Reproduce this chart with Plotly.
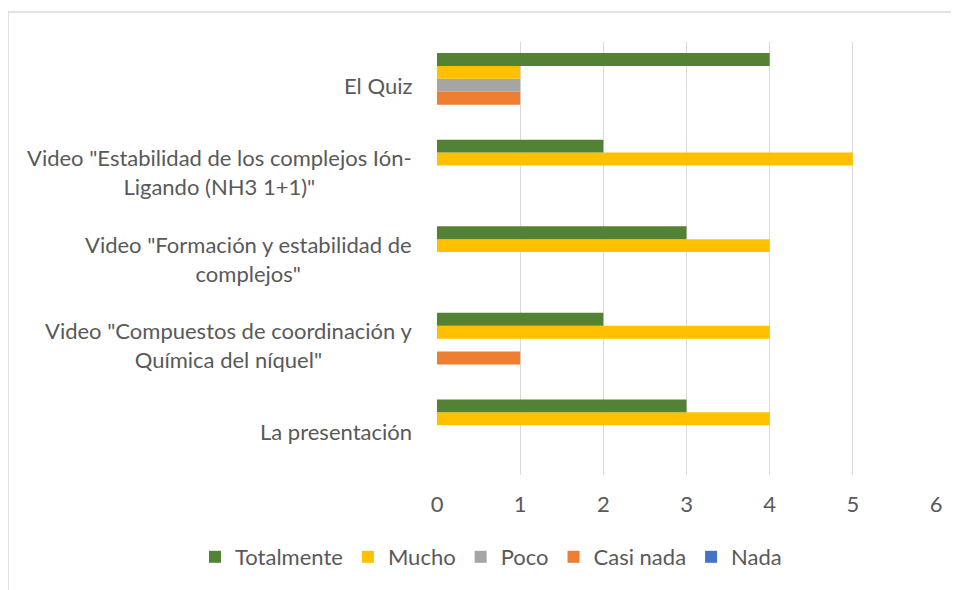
import plotly.graph_objects as go

# Categories listed bottom-to-top
categories = [
    "La presentación",
    "Video \"Compuestos de coordinación y<br>Química del níquel\"",
    "Video \"Formación y estabilidad de<br>complejos\"",
    "Video \"Estabilidad de los complejos Ión-<br>Ligando (NH3 1+1)\"",
    "El Quiz",
]
series_names = ["Totalmente", "Mucho", "Poco", "Casi nada", "Nada"]
totalmente = [3, 2, 3, 2, 4]
mucho = [4, 4, 4, 5, 1]
poco = [0, 0, 0, 0, 1]
casi_nada = [0, 1, 0, 0, 1]
nada = [0, 0, 0, 0, 0]
x_ticks = [0, 1, 2, 3, 4, 5, 6]

series_values = [totalmente, mucho, poco, casi_nada, nada]
colors = ["#548235", "#FFC000", "#A5A5A5", "#ED7D31", "#4472C4"]

FONT = "Lato"
TXT = "#595959"
FS = 22

fig = go.Figure()
# add in reverse so that "Totalmente" sits at the top of each group
for name, vals, col in reversed(list(zip(series_names, series_values, colors))):
    fig.add_trace(go.Bar(
        y=categories, x=vals, name=name, orientation="h",
        marker=dict(color=col, line=dict(width=0)),
    ))

# page body has an 8px margin; figure coordinates = screen - 8
OFF = 8
W, H = 959 - OFF, 590 - OFF
L = 437 - OFF
T = 42 - OFF
R = W - (936 - OFF)
B = H - (475 - OFF)
pw, ph = W - L - R, H - T - B

for c in categories:
    fig.add_annotation(
        x=0, xref="x domain", y=c, yref="y", text=c, showarrow=False,
        xanchor="right", yanchor="middle", align="center", xshift=-23,
        font=dict(family=FONT, size=FS, color=TXT),
    )

# chart area border
fig.add_shape(
    type="rect", xref="paper", yref="paper",
    x0=(8 - OFF - L) / pw, x1=(W + 30 - L) / pw,
    y0=-(H + 30 - (T + ph)) / ph, y1=((T + ph) - (12 - OFF)) / ph,
    line=dict(color="#D9D9D9", width=1.5), fillcolor="rgba(0,0,0,0)", layer="below",
)

fig.update_layout(
    width=W, height=H,
    margin=dict(l=L, r=R, t=T, b=B, autoexpand=False),
    paper_bgcolor="white", plot_bgcolor="white",
    barmode="group", bargap=0.255, bargroupgap=0,
    font=dict(family=FONT, size=FS, color=TXT),
    showlegend=True,
    legend=dict(
        orientation="h", traceorder="reversed",
        x=(195 - OFF - L) / pw, xanchor="left",
        y=-((557 - OFF) - (T + ph)) / ph, yanchor="middle",
        font=dict(family=FONT, size=FS, color=TXT),
        itemwidth=30, itemsizing="constant",
    ),
    xaxis=dict(
        range=[0, 6], tickvals=x_ticks, showgrid=True, gridcolor="#D9D9D9",
        gridwidth=1, zeroline=False, showline=False,
        tickfont=dict(family=FONT, size=FS, color=TXT), ticklabelstandoff=14,
        fixedrange=True,
    ),
    yaxis=dict(
        showticklabels=False, showgrid=False, zeroline=False,
        showline=False, fixedrange=True,
    ),
)

fig.write_html("out.html")
